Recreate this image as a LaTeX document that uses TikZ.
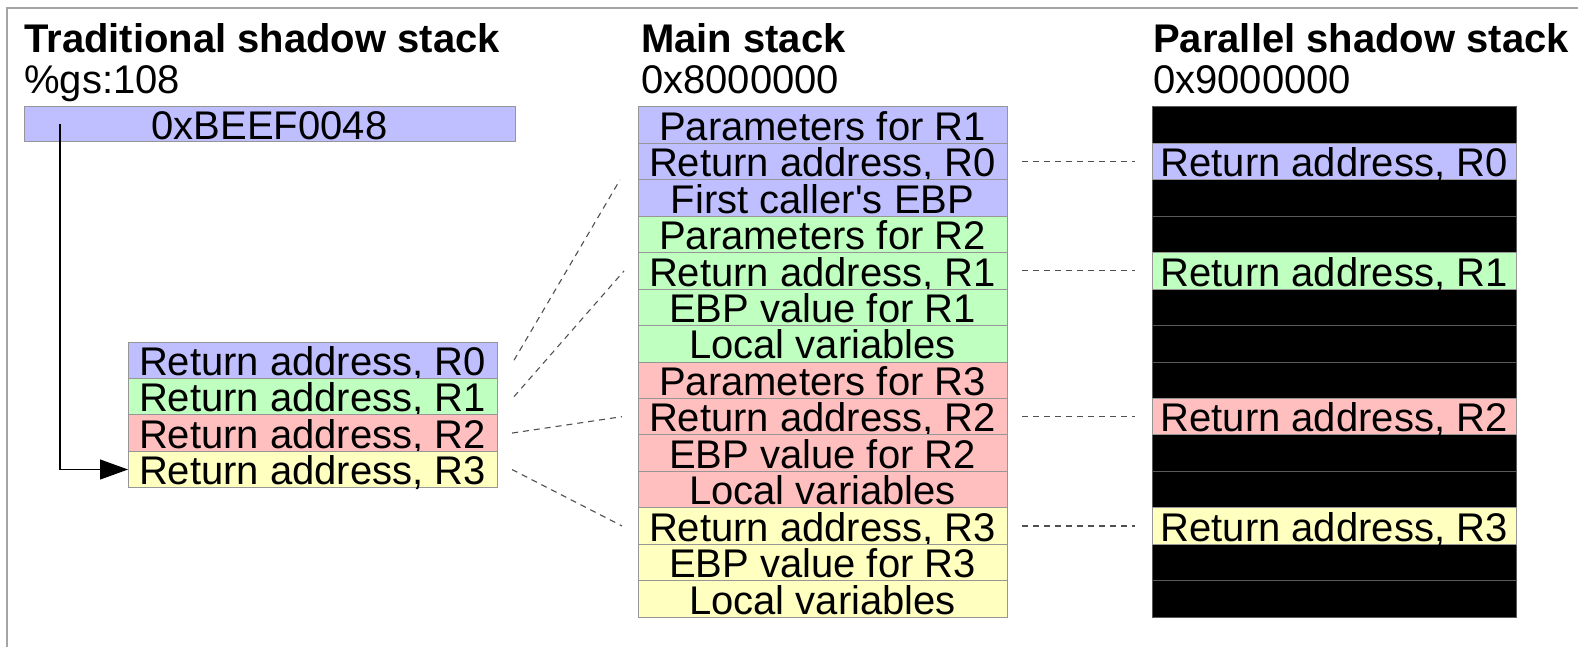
\documentclass[tikz,border=0pt]{standalone}
\usepackage{fontspec}
\setmainfont{Liberation Sans}
\usetikzlibrary{arrows.meta}

\definecolor{frameGray}{RGB}{165,165,165}
\definecolor{cellEdge}{RGB}{150,150,150}
\definecolor{darkEdge}{RGB}{90,90,90}
\definecolor{linkGray}{RGB}{80,80,80}
\definecolor{cBlue}{RGB}{191,191,255}
\definecolor{cGreen}{RGB}{191,255,191}
\definecolor{cRed}{RGB}{255,191,191}
\definecolor{cYellow}{RGB}{255,255,191}

\begin{document}
\begin{tikzpicture}[x=1pt,y=-1pt,
  bigfont/.style={font=\fontsize{40}{44}\selectfont},
  heading/.style={anchor=base west, inner sep=0pt, font=\fontsize{40}{44}\selectfont\bfseries},
  address/.style={bigfont, anchor=base west, inner sep=0pt},
  cell/.style={draw=cellEdge, line width=1pt, minimum width=369pt, minimum height=36.43pt,
    inner sep=0pt, outer sep=0pt, text height=30.4pt, text depth=0pt, bigfont},
  pcell/.style={cell, minimum width=364pt},
  blackcell/.style={pcell, fill=black, draw=darkEdge},
  link/.style={draw=linkGray, line width=1.1pt, dash pattern=on 6pt off 5pt},
  pointer/.style={draw=black, line width=1.2pt, -{Triangle[length=28pt,width=20pt]}}
]
\useasboundingbox (0,0) rectangle (1578,647);

% outer frame (only the top and left edges fall inside the page)
\draw[frameGray, line width=2pt] (7,660) -- (7,8) -- (1590,8);

% headings
\node[heading] (thead) at (24,53) {Traditional shadow stack};
\node[address] (taddr) at (24,94) {\%gs:108};
\node[heading] (mhead) at (641,53) {Main stack};
\node[address] (maddr) at (641,94) {0x8000000};
\node[heading] (phead) at (1153,53) {Parallel shadow stack};
\node[address] (paddr) at (1153,94) {0x9000000};

% pointer cell of the traditional shadow stack
\node[cell, fill=cBlue, minimum width=491pt, minimum height=35pt] (beef) at (269.5,124.5) {0xBEEF0048};

% traditional shadow stack
\foreach \i/\c in {0/cBlue,1/cGreen,2/cRed,3/cYellow}
  \node[cell, fill=\c] (t\i) at (312.5,{342+36.43*(\i+0.5)}) {Return address, R\i};

% main stack
\foreach \i/\c/\t in {
  0/cBlue/{Parameters for R1},
  1/cBlue/{Return address, R0},
  2/cBlue/{First caller\textquotesingle s EBP},
  3/cGreen/{Parameters for R2},
  4/cGreen/{Return address, R1},
  5/cGreen/{EBP value for R1},
  6/cGreen/{Local variables},
  7/cRed/{Parameters for R3},
  8/cRed/{Return address, R2},
  9/cRed/{EBP value for R2},
  10/cRed/{Local variables},
  11/cYellow/{Return address, R3},
  12/cYellow/{EBP value for R3},
  13/cYellow/{Local variables}}
  \node[cell, fill=\c] (m\i) at (822.5,{107+36.43*(\i+0.5)}) {\t};

% parallel shadow stack: unused slots are black
\foreach \i in {0,2,3,5,6,7,9,10,12,13}
  \node[blackcell] (p\i) at (1334,{107+36.43*(\i+0.5)}) {};
\foreach \i/\c/\r in {1/cBlue/0,4/cGreen/1,8/cRed/2,11/cYellow/3}
  \node[pcell, fill=\c] (p\i) at (1334,{107+36.43*(\i+0.5)}) {Return address, R\r};

% pointer from %gs:108 to the top of the traditional shadow stack
\draw[pointer] ([xshift=36pt]beef.west) |- (t3.west);

% traditional entries and their main-stack counterparts
\draw[link] ([xshift=17pt]t0.east) -- ([xshift=-18pt]m1.south west);
\draw[link] ([xshift=17pt]t1.east) -- ([xshift=-14pt]m4.west);
\draw[link] ([xshift=15pt]t2.east) -- ([xshift=-16pt]m8.west);
\draw[link] ([xshift=15pt]t3.east) -- ([xshift=-16pt]m11.west);

% main stack return addresses mirrored in the parallel stack
\foreach \i in {1,4,8,11}
  \draw[link] ([xshift=15pt]m\i.east) -- ([xshift=-17pt]p\i.west);
\end{tikzpicture}
\end{document}
